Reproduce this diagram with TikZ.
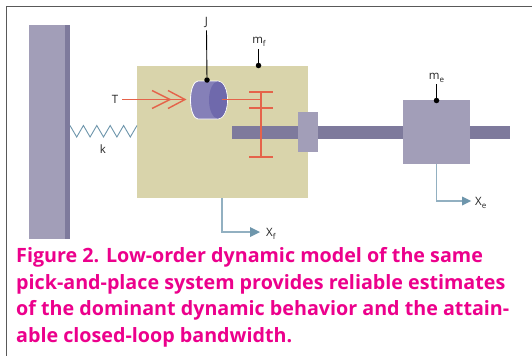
\documentclass[tikz,border=0pt]{standalone}
\usepackage{fontspec}
\setmainfont{Open Sans}
\usetikzlibrary{positioning}
\definecolor{massgray}{HTML}{A29EB8}
\definecolor{shaftgray}{HTML}{7E7A9C}
\definecolor{framebeige}{HTML}{D9D4AB}
\definecolor{rotorblue}{HTML}{8580B8}
\definecolor{rotorside}{HTML}{6F69AC}
\definecolor{gearred}{HTML}{E5634A}
\definecolor{springblue}{HTML}{6E96AC}
\definecolor{captionpink}{HTML}{EC008C}
\newcommand{\lowsub}[1]{\raisebox{-3pt}{\fontsize{8}{8}\selectfont #1}}
\tikzset{
	lab/.style={inner sep=0pt, font=\fontsize{11.5}{12}\selectfont, text=black!85},
	block/.style={fill=massgray, inner sep=0pt, anchor=north west},
	dot/.style={circle, fill=black, inner sep=0pt, minimum size=5.5pt},
	gear/.style={draw=gearred, line width=1.4pt},
	pointer/.style={draw=black, line width=.9pt},
	travel/.style={draw=springblue!75!white, line width=1.1pt},
	tip/.style={fill=springblue, draw=none}
}
\begin{document}
\begin{tikzpicture}[x=1pt, y=-1pt]
	\useasboundingbox (0,0) rectangle (532,356);
	\fill[white] (0,0) rectangle (532,356);
	\draw[black!65, line width=1pt] (532,6) -- (6.5,6) -- (6.5,356);

	% wall
	\fill[massgray] (29,25) rectangle (65,239);
	\fill[shaftgray] (65,25) rectangle (70,239);

	% frame, shaft and masses
	\node[block, fill=framebeige, minimum width=171pt, minimum height=132pt] (frame) at (137,66) {};
	\fill[shaftgray] (232,126) rectangle (510,139);
	\node[block, minimum width=20pt, minimum height=40pt] (hub) at (298,112) {};
	\node[block, minimum width=67pt, minimum height=64pt] (carriage) at (403,100) {};

	% spring
	\draw[springblue, line width=.9pt] (70,125.5)
		\foreach \i in {0,...,4} { -- ({76.7+13.4*\i},137) -- ({83.4+13.4*\i},125.5) };

	% rotor
	\filldraw[draw=white, line width=.8pt, fill=rotorblue] (198,81) -- (218,81) arc[start angle=90, end angle=-90, x radius=9.5pt, y radius=19pt] -- (198,119) arc[start angle=270, end angle=90, x radius=7.5pt, y radius=19pt] -- cycle;
	\fill[rotorside] (218,81.4) arc[start angle=90, end angle=-90, x radius=9pt, y radius=18.6pt] arc[start angle=270, end angle=90, x radius=9pt, y radius=18.6pt];

	% torque arrow
	\node[lab, anchor=east] (torque) at (118.5,99) {T};
	\coordinate (torquetip) at (185,99.5);
	\draw[gear] (122,99.5) -- (torquetip);
	\draw[gear] (152,90.5) -- (170,99.5) -- (152,108.5);
	\draw[gear] (168,90.5) -- (185,99.5) -- (168,108.5);

	% gears
	\draw[gear] (222,99.5) -- (261,99.5);
	\draw[gear] (261,91) -- (261,157);
	\draw[gear] (249,92) -- (273,92);
	\draw[gear] (249,108) -- (273,108);
	\draw[gear] (249,157) -- (273,157);

	% labels
	\node[dot] (inertia) at (207,80) {};
	\node[lab] (J) at (206.5,22) {J};
	\draw[pointer] (J.south) ++(0,3) -- (inertia);
	\node[dot] (framedot) at (258.5,65.5) {};
	\node[lab] (mf) at (259,41.5) {m\lowsub{f}};
	\draw[pointer] (258.5,49) -- (framedot);
	\node[dot] (massdot) at (436.5,100.5) {};
	\node[lab] (me) at (436.5,77.5) {m\lowsub{e}};
	\draw[pointer] (436.5,84) -- (massdot);
	\node[lab] (k) at (103,149.5) {k};

	% displacement arrows
	\node[lab, anchor=west] (xf) at (266,233.5) {X\lowsub{f}};
	\coordinate (xfcorner) at (222,232);
	\draw[travel] (222,198) -- (xfcorner) -- (250,232);
	\fill[tip] (260,232) -- (250,227) -- (250,237) -- cycle;
	\node[lab, anchor=west] (xe) at (475,202.5) {X\lowsub{e}};
	\coordinate (xecorner) at (436.5,201);
	\draw[travel] (436.5,164) -- (xecorner) -- (463,201);
	\fill[tip] (471,201) -- (462,196.5) -- (462,205.5) -- cycle;

	% caption
	\node[anchor=north west, inner sep=0pt, text=captionpink, align=left,
		font=\fontsize{19.7}{26.6}\selectfont\bfseries] (caption) at (16,247.5)
		{Figure 2. Low-order dynamic model of the same\\
		pick-and-place system provides reliable estimates\\
		of the dominant dynamic behavior and the attain-\\
		able closed-loop bandwidth.};
\end{tikzpicture}
\end{document}
